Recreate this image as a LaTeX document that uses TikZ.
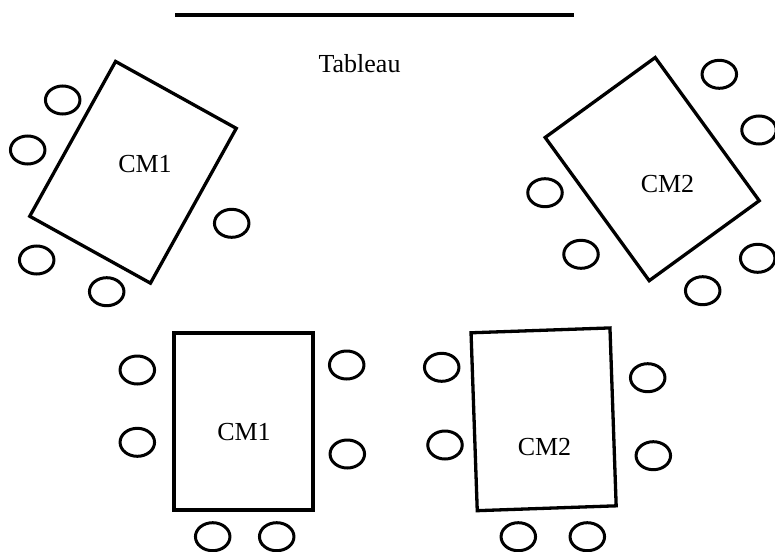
\documentclass[tikz,border=0pt]{standalone}
\usepackage{fontspec}
\setmainfont{Liberation Serif}
\usetikzlibrary{shapes.geometric}
\begin{document}
\begin{tikzpicture}[x=1pt,y=-1pt,
  tablebox/.style={draw,line width=3.3pt,rectangle,inner sep=0pt,minimum width=138pt,minimum height=177pt},
  chair/.style={draw,line width=3pt,ellipse,inner sep=0pt,minimum width=34.5pt,minimum height=28pt},
  lbl/.style={font=\fontsize{26}{30}\selectfont,inner sep=0pt,anchor=base}]
\useasboundingbox (0,0) rectangle (775,551);
% board
\coordinate (b1) at (175,15);
\coordinate (b2) at (574,15);
\draw[line width=3.6pt] (b1) -- (b2);
\node[lbl] (tab) at (359.5,72) {Tableau};
% top-left table
\node[tablebox,rotate=-29] (t1) at (133,172.3) {};
\node[lbl] (l1) at (145,172) {CM1};
\node[chair] (c11) at (62.7,100) {};
\node[chair] (c12) at (27.7,150) {};
\node[chair] (c13) at (231.7,223.3) {};
\node[chair] (c14) at (36.7,260) {};
\node[chair] (c15) at (106.7,291.7) {};
% top-right table
\node[tablebox,rotate=36,minimum width=136pt] (t2) at (652.2,169.1) {};
\node[lbl] (l2) at (667.5,192) {CM2};
\node[chair] (c21) at (719.3,74.3) {};
\node[chair] (c22) at (759,130) {};
\node[chair] (c23) at (545,192.7) {};
\node[chair] (c24) at (581,254.3) {};
\node[chair] (c25) at (757.7,258.3) {};
\node[chair] (c26) at (702.7,290.7) {};
% bottom-left table
\node[tablebox,minimum width=139pt] (t3) at (243.5,421.5) {};
\node[lbl] (l3) at (244,440) {CM1};
\node[chair] (c31) at (137.3,370) {};
\node[chair] (c32) at (137.3,442.3) {};
\node[chair] (c33) at (346.7,365) {};
\node[chair] (c34) at (347.3,454) {};
\node[chair] (c35) at (212.7,536.7) {};
\node[chair] (c36) at (276.7,536.7) {};
% bottom-right table
\node[tablebox,rotate=2,minimum width=139pt,minimum height=178pt] (t4) at (543.6,419.3) {};
\node[lbl] (l4) at (544.5,455) {CM2};
\node[chair] (c41) at (441.7,367.3) {};
\node[chair] (c42) at (445,445) {};
\node[chair] (c43) at (647.7,377.7) {};
\node[chair] (c44) at (653.3,455.7) {};
\node[chair] (c45) at (518.3,536.7) {};
\node[chair] (c46) at (587.3,536.7) {};
\end{tikzpicture}
\end{document}
